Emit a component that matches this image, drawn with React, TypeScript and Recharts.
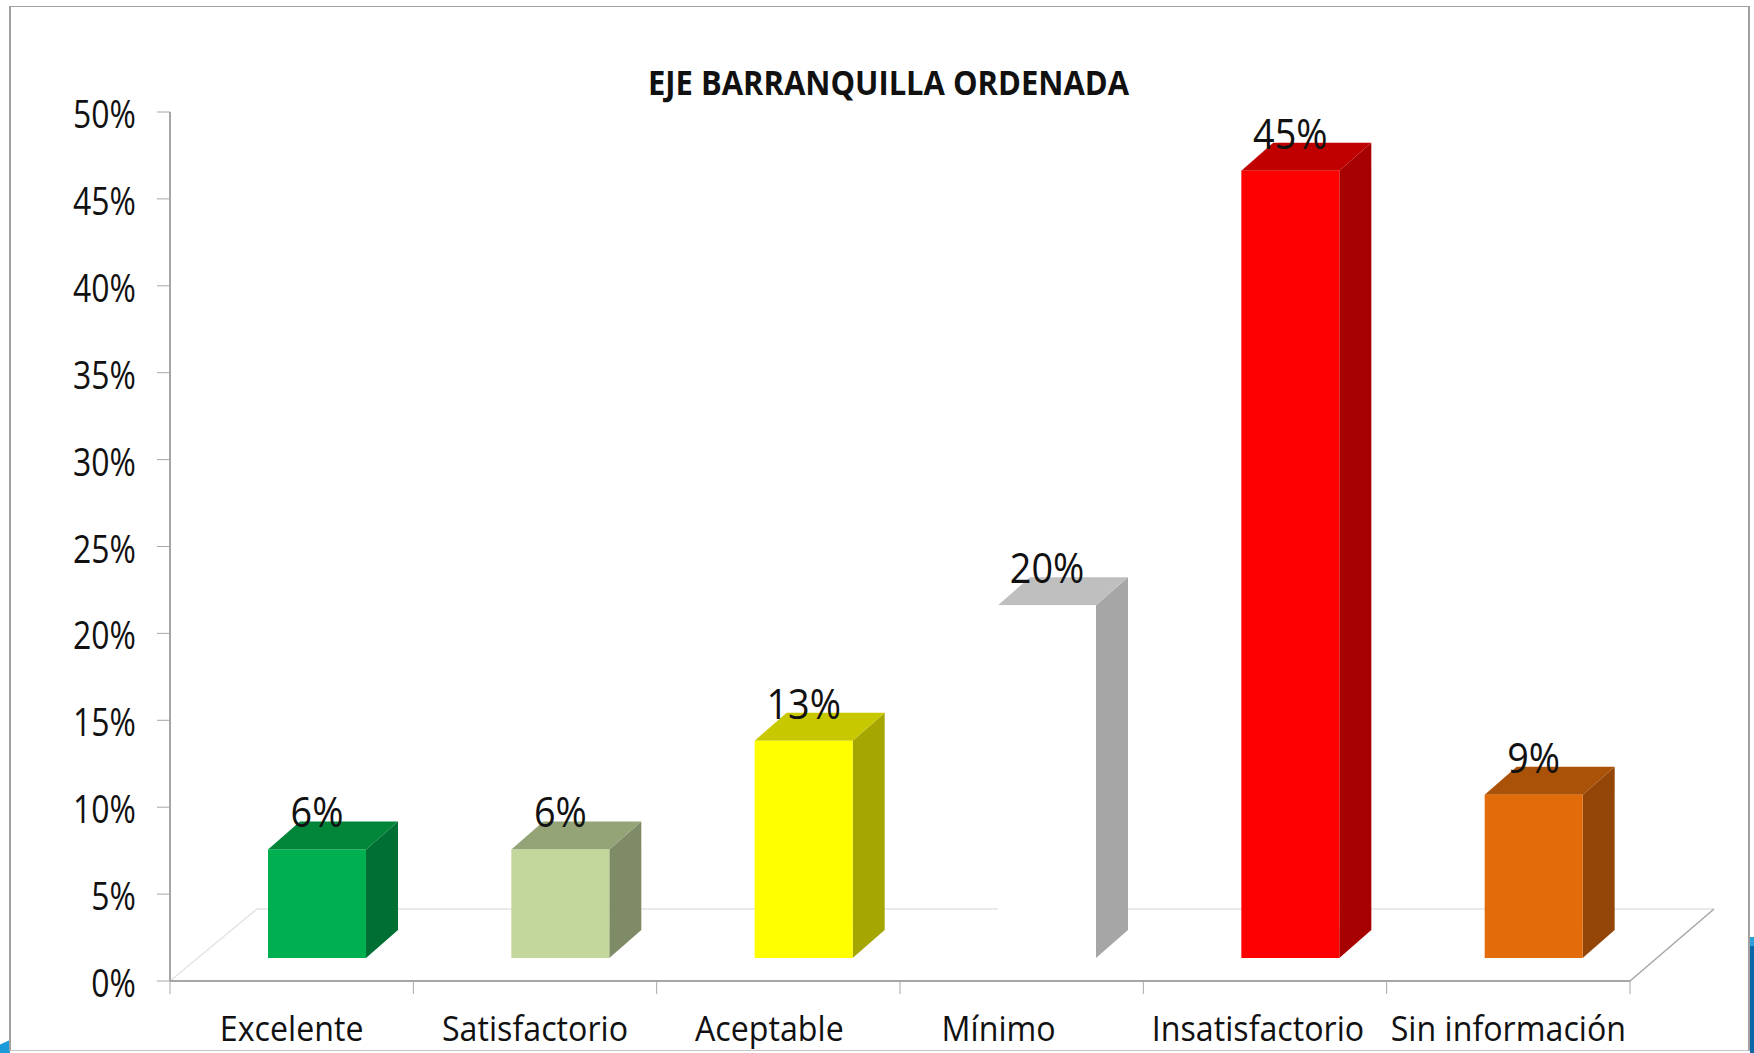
import React from 'react';
import { BarChart, Bar, XAxis, YAxis, LabelList } from 'recharts';

const categories = ['Excelente', 'Satisfactorio', 'Aceptable', 'Mínimo', 'Insatisfactorio', 'Sin información'];
const values = [6.25, 6.25, 12.5, 20.3, 45.3, 9.4];
const yTicks = [0, 5, 10, 15, 20, 25, 30, 35, 40, 45, 50];

const frontColors = ['#00b050', '#c3d69b', '#ffff00', '#ffffff', '#ff0000', '#e36c0a'];
const topColors = ['#008539', '#95a477', '#c8c800', '#bfbfbf', '#c00000', '#aa5208'];
const sideColors = ['#006f33', '#7f8a66', '#a6a600', '#a6a6a6', '#a60000', '#934607'];

// the category labels don't sit quite centered in the original
const labelNudge = [0, 0, -9, -23, -7, 0];

const data = categories.map((name, i) => ({ name, value: values[i] }));

const WIDTH = 1754;
const HEIGHT = 1053;
const LEFT = 170;
const RIGHT = 1630;
const TOP = 112;
const BOTTOM = 981;
const BAND = (RIGHT - LEFT) / categories.length;

// fake 3D projection
const SHIFT_X = 25;
const SHIFT_Y = 23;
const DEPTH_X = 32;
const DEPTH_Y = 28;

const AXIS_COLOR = '#a6a6a6';
const FONT = '"Open Sans", sans-serif';

function Bar3D(props: any) {
  const { x, y, width, height, index } = props;
  const l = x + SHIFT_X;
  const r = l + width;
  const t = y - SHIFT_Y;
  const b = t + height;
  return (
    <g>
      <polygon
        points={`${r},${t} ${r + DEPTH_X},${t - DEPTH_Y} ${r + DEPTH_X},${b - DEPTH_Y} ${r},${b}`}
        fill={sideColors[index]}
      />
      <polygon
        points={`${l},${t} ${l + DEPTH_X},${t - DEPTH_Y} ${r + DEPTH_X},${t - DEPTH_Y} ${r},${t}`}
        fill={topColors[index]}
      />
      <rect x={l} y={t} width={width} height={height} fill={frontColors[index]} />
    </g>
  );
}

function BarValue(props: any) {
  const { x, y, width, value } = props;
  const cx = x + SHIFT_X + width / 2;
  return (
    <text
      transform={`translate(${cx},${y - SHIFT_Y - 22}) scale(0.9,1)`}
      textAnchor="middle"
      fontFamily={FONT}
      fontSize={42}
      fill="#111"
    >
      {`${Math.round(value)}%`}
    </text>
  );
}

function YTick(props: any) {
  const { x, y, payload } = props;
  return (
    <text
      transform={`translate(${x - 19},${y + 16}) scale(0.84,1)`}
      textAnchor="end"
      fontFamily={FONT}
      fontSize={38}
      fill="#111"
    >
      {`${payload.value}%`}
    </text>
  );
}

function XTick(props: any) {
  const { x, y, payload, index } = props;
  const last = index === categories.length - 1;
  return (
    <g>
      <line x1={x - BAND / 2} y1={BOTTOM} x2={x - BAND / 2} y2={BOTTOM + 13} stroke={AXIS_COLOR} />
      {last && <line x1={x + BAND / 2} y1={BOTTOM} x2={x + BAND / 2} y2={BOTTOM + 13} stroke={AXIS_COLOR} />}
      <text
        transform={`translate(${x + labelNudge[index]},${y + 52}) scale(0.92,1)`}
        textAnchor="middle"
        fontFamily={FONT}
        fontSize={35}
        fill="#111"
      >
        {payload.value}
      </text>
    </g>
  );
}

export default function App() {
  return (
    <div style={{ position: 'absolute', left: 0, top: 0, width: WIDTH, height: HEIGHT, overflow: 'hidden', background: '#fff' }}>
      <div style={{ position: 'absolute', left: 0, top: 1040, width: 10, height: 13, background: '#1b9bd7', clipPath: 'polygon(0 35%, 100% 0, 100% 100%, 0 100%)' }} />
      <div style={{ position: 'absolute', left: 1750, top: 937, width: 4, height: 9, background: '#2a9fd8' }} />
      <div style={{ position: 'absolute', left: 1750, top: 946, width: 4, height: 107, background: '#0a68a8' }} />
      <div style={{ position: 'absolute', left: 9, top: 6, width: 1741, height: 1045, borderTop: '1.5px solid #a0a0a0', borderLeft: '2px solid #a0a0a0', borderRight: '2px solid #a0a0a0', borderBottom: '1.5px solid #c8c8c8', boxSizing: 'border-box' }} />
      <BarChart
        width={WIDTH}
        height={HEIGHT}
        data={data}
        margin={{ top: TOP, right: WIDTH - RIGHT, bottom: 0, left: 0 }}
        barSize={98}
        style={{ position: 'absolute', left: 0, top: 0 }}
      >
        <text
          transform={`translate(${(648 + 1129) / 2},95) scale(0.91,1)`}
          textAnchor="middle"
          fontFamily={FONT}
          fontWeight="bold"
          fontSize={34}
          fill="#111"
        >
          EJE BARRANQUILLA ORDENADA
        </text>
        <polyline
          points={`${LEFT},${BOTTOM} ${LEFT + 87},${BOTTOM - 72} ${RIGHT + 84},${BOTTOM - 72}`}
          fill="none"
          stroke="#e4e4e4"
          strokeWidth={1.5}
        />
        <line x1={RIGHT} y1={BOTTOM} x2={RIGHT + 84} y2={BOTTOM - 72} stroke={AXIS_COLOR} strokeWidth={1.5} />
        <XAxis
          dataKey="name"
          interval={0}
          height={HEIGHT - BOTTOM}
          tick={<XTick />}
          tickLine={false}
          axisLine={{ stroke: AXIS_COLOR, strokeWidth: 2 }}
        />
        <YAxis
          width={LEFT}
          domain={[0, 50]}
          ticks={yTicks}
          interval={0}
          tick={<YTick />}
          tickSize={13}
          tickLine={{ stroke: AXIS_COLOR }}
          axisLine={{ stroke: AXIS_COLOR, strokeWidth: 2 }}
        />
        <Bar dataKey="value" isAnimationActive={false} shape={<Bar3D />}>
          <LabelList dataKey="value" content={<BarValue />} />
        </Bar>
      </BarChart>
    </div>
  );
}
